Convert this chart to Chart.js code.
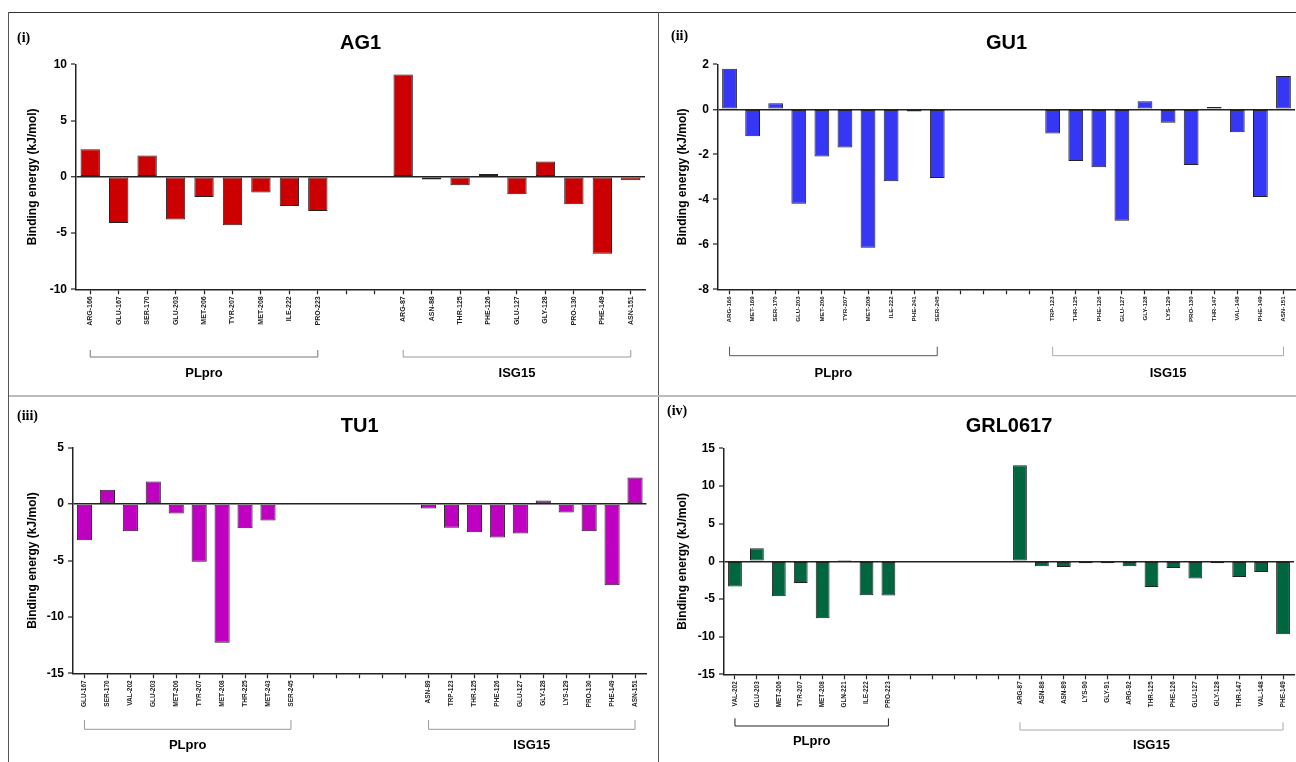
<!DOCTYPE html>
<html>
<head>
<meta charset="utf-8">
<script src="https://cdn.jsdelivr.net/npm/chart.js@4.4.1/dist/chart.umd.min.js"></script>
<style>
  body { margin: 0; background: #fff; width: 1296px; height: 762px; position: relative; overflow: hidden; }
  canvas { position: absolute; }
  .tag { position: absolute; font: bold 14px "Liberation Serif", "Times New Roman", serif; line-height: 1; color: #000; }
  .rule { position: absolute; }
</style>
</head>
<body>
<div class="rule" style="left:8px;top:12px;width:1288px;height:1px;background:#333"></div>
<div class="rule" style="left:8px;top:12px;width:1px;height:750px;background:#555"></div>
<div class="rule" style="left:658px;top:12px;width:1px;height:750px;background:#555"></div>
<div class="rule" style="left:9px;top:395px;width:1287px;height:2px;background:#bbb"></div>

<canvas id="ag1" width="648" height="382" style="left:9px;top:13px"></canvas>
<canvas id="gu1" width="637" height="382" style="left:659px;top:13px"></canvas>
<canvas id="tu1" width="648" height="365" style="left:9px;top:397px"></canvas>
<canvas id="grl" width="637" height="365" style="left:659px;top:397px"></canvas>

<div class="tag" style="left:17px;top:31px">(i)</div>
<div class="tag" style="left:671px;top:29px">(ii)</div>
<div class="tag" style="left:17px;top:409px">(iii)</div>
<div class="tag" style="left:667px;top:404px">(iv)</div>

<script>
// AG1
const ag1Labels = ['ARG-166', 'GLU-167', 'SER-170', 'GLU-203', 'MET-206', 'TYR-207', 'MET-208', 'ILE-222', 'PRO-223', '', '',
  'ARG-87', 'ASN-88', 'THR-125', 'PHE-126', 'GLU-127', 'GLY-128', 'PRO-130', 'PHE-149', 'ASN-151'];
const ag1Values = [2.45, -4.1, 1.9, -3.8, -1.8, -4.3, -1.4, -2.6, -3.05, null, null,
  9.1, -0.25, -0.75, 0.25, -1.55, 1.35, -2.45, -6.85, -0.3];
const ag1Groups = [['PLpro', 'ARG-166', 'PRO-223'], ['ISG15', 'ARG-87', 'ASN-151']];

// GU1
const gu1Labels = ['ARG-166', 'MET-169', 'SER-170', 'GLU-203', 'MET-206', 'TYR-207', 'MET-208', 'ILE-222', 'PHE-241', 'SER-245', '', '', '', '',
  'TRP-123', 'THR-125', 'PHE-126', 'GLU-127', 'GLY-128', 'LYS-129', 'PRO-130', 'THR-147', 'VAL-148', 'PHE-149', 'ASN-151'];
const gu1Values = [1.8, -1.2, 0.27, -4.2, -2.1, -1.7, -6.15, -3.2, -0.1, -3.05, null, null, null, null,
  -1.08, -2.3, -2.57, -4.95, 0.36, -0.6, -2.47, 0.1, -1.02, -3.9, 1.48];
const gu1Groups = [['PLpro', 'ARG-166', 'SER-245'], ['ISG15', 'TRP-123', 'ASN-151']];

// TU1
const tu1Labels = ['GLU-167', 'SER-170', 'VAL-202', 'GLU-203', 'MET-206', 'TYR-207', 'MET-208', 'THR-225', 'MET-243', 'SER-245', '', '', '', '', '',
  'ASN-89', 'TRP-123', 'THR-125', 'PHE-126', 'GLU-127', 'GLY-128', 'LYS-129', 'PRO-130', 'PHE-149', 'ASN-151'];
const tu1Values = [-3.2, 1.27, -2.4, 2.0, -0.83, -5.1, -12.3, -2.15, -1.45, 0, null, null, null, null, null,
  -0.38, -2.1, -2.5, -2.95, -2.6, 0.32, -0.75, -2.4, -7.2, 2.36];
const tu1Groups = [['PLpro', 'GLU-167', 'SER-245'], ['ISG15', 'ASN-89', 'ASN-151']];

// GRL0617
const grlLabels = ['VAL-202', 'GLU-203', 'MET-206', 'TYR-207', 'MET-208', 'GLN-221', 'ILE-222', 'PRO-223', '', '', '', '', '',
  'ARG-87', 'ASN-88', 'ASN-89', 'LYS-90', 'GLY-91', 'ARG-92', 'THR-125', 'PHE-126', 'GLU-127', 'GLY-128', 'THR-147', 'VAL-148', 'PHE-149'];
const grlValues = [-3.35, 1.74, -4.65, -2.87, -7.55, 0.18, -4.5, -4.55, null, null, null, null, null,
  12.75, -0.67, -0.76, -0.27, -0.27, -0.67, -3.4, -0.89, -2.27, -0.27, -2.09, -1.42, -9.7];
const grlGroups = [['PLpro', 'VAL-202', 'PRO-223'], ['ISG15', 'ARG-87', 'PHE-149']];

// brackets under the residue labels, placed from the x scale
const groupBrackets = {
  id: 'groupBrackets',
  afterDraw(chart, args, opts) {
    const ctx = chart.ctx
    const x = chart.scales.x
    const base = chart.chartArea.bottom
    opts.groups.forEach(function(g, i) {
      const st = opts.style[i]
      const x0 = x.getPixelForValue(chart.data.labels.indexOf(g[1]))
      const x1 = x.getPixelForValue(chart.data.labels.indexOf(g[2]))
      ctx.save()
      ctx.strokeStyle = st.color
      ctx.lineWidth = 1
      ctx.beginPath()
      ctx.moveTo(x0, base + st.top)
      ctx.lineTo(x0, base + st.line)
      ctx.lineTo(x1, base + st.line)
      ctx.lineTo(x1, base + st.top)
      ctx.stroke()
      ctx.fillStyle = '#000'
      ctx.font = 'bold 13px Arial, "Liberation Sans", sans-serif'
      ctx.textAlign = 'center'
      ctx.textBaseline = 'middle'
      ctx.fillText(g[0], (x0 + x1) / 2, base + st.label)
      ctx.restore()
    })
  }
}

function makeChart(id, title, labels, values, groups, color, yMin, yMax, yStep, lay) {
  const ctx = document.getElementById(id).getContext('2d')
  return new Chart(ctx, {
    type: 'bar',
    data: {
      labels: labels,
      datasets: [{
        data: values,
        backgroundColor: color,
        borderColor: '#222',
        borderWidth: 1,
        borderSkipped: false,
        barPercentage: lay.bar,
        categoryPercentage: 1
      }]
    },
    options: {
      responsive: false,
      animation: false,
      layout: { padding: { left: 0, right: lay.padRight, top: 0, bottom: 0 } },
      plugins: {
        legend: { display: false },
        tooltip: { enabled: false },
        title: {
          display: true,
          text: title,
          fullSize: false,
          color: '#000',
          font: { family: 'Arial', size: 20, weight: 'bold' },
          padding: { top: lay.titleTop, bottom: lay.titleBottom }
        },
        groupBrackets: { groups: groups, style: lay.brackets }
      },
      scales: {
        x: {
          offset: true,
          grid: { offset: false, drawOnChartArea: false, tickLength: 5, tickColor: '#222', tickWidth: 1.2 },
          border: { color: '#222', width: 1.5 },
          ticks: {
            autoSkip: false, minRotation: 90, maxRotation: 90, padding: 2, color: '#222',
            font: { family: 'Arial', size: lay.xFont, weight: 'bold' }
          },
          afterFit(s) { s.height = lay.xHeight; s.paddingLeft = 0; s.paddingRight = 0 }
        },
        y: {
          min: yMin,
          max: yMax,
          ticks: { stepSize: yStep, padding: 4, color: '#000', font: { family: 'Arial', size: 12, weight: 'bold' } },
          grid: {
            color: c => (c.tick && c.tick.value === 0) ? '#222' : 'rgba(0,0,0,0)',
            lineWidth: c => (c.tick && c.tick.value === 0) ? 1.5 : 0,
            tickColor: '#222', tickWidth: 1.2, tickLength: 5
          },
          border: { color: '#222', width: 1.5 },
          title: {
            display: true,
            text: 'Binding energy (kJ/mol)',
            color: '#000',
            font: { family: 'Arial', size: 12, weight: 'bold' },
            padding: { top: 16.5, bottom: 0 }
          },
          afterFit(s) { s.width = lay.yWidth }
        }
      }
    },
    plugins: [groupBrackets]
  })
}

makeChart('ag1', 'AG1', ag1Labels, ag1Values, ag1Groups, '#CC0000', -10, 10, 5, {
  yWidth: 67, padRight: 12, titleTop: 18, titleBottom: 9.3, xHeight: 105.7, xFont: 7, bar: 0.68,
  brackets: [{ top: 60.7, line: 67.7, label: 84, color: '#777' }, { top: 60.7, line: 67.7, label: 84, color: '#999' }]
})

makeChart('gu1', 'GU1', gu1Labels, gu1Values, gu1Groups, '#3636F5', -8, 2, 2, {
  yWidth: 59, padRight: 1, titleTop: 18, titleBottom: 9.3, xHeight: 105.7, xFont: 6.2, bar: 0.64,
  brackets: [{ top: 57.4, line: 66.4, label: 84, color: '#555' }, { top: 57.4, line: 66.4, label: 84, color: '#aaa' }]
})

makeChart('tu1', 'TU1', tu1Labels, tu1Values, tu1Groups, '#C000C0', -15, 5, 5, {
  yWidth: 64, padRight: 10.5, titleTop: 17, titleBottom: 9.7, xHeight: 88.7, xFont: 6.5, bar: 0.66,
  brackets: [{ top: 46.7, line: 56, label: 71.7, color: '#999' }, { top: 46.7, line: 56, label: 71.7, color: '#999' }]
})

makeChart('grl', 'GRL0617', grlLabels, grlValues, grlGroups, '#00663F', -15, 15, 5, {
  yWidth: 65, padRight: 2, titleTop: 17, titleBottom: 10.3, xHeight: 87.7, xFont: 6.4, bar: 0.63,
  brackets: [{ top: 44, line: 51.7, label: 66.7, color: '#222' }, { top: 48, line: 55.7, label: 70.7, color: '#aaa' }]
})
</script>
</body>
</html>
